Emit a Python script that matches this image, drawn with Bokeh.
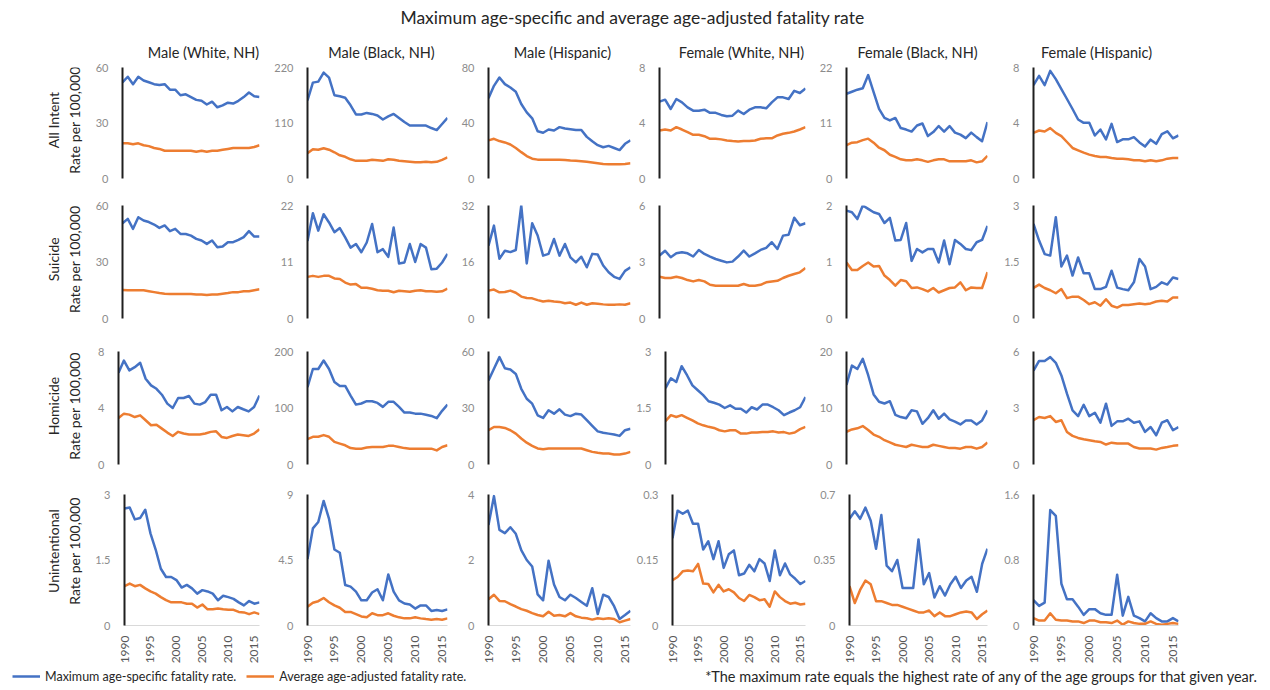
import math
from bokeh.plotting import figure
from bokeh.layouts import row, column
from bokeh.models import Range1d, FixedTicker, CustomJSTickFormatter, Legend, LegendItem
from bokeh.embed import file_html
from bokeh.resources import INLINE
from bokeh.core.properties import value

# ---------------- data ----------------
years = list(range(1990, 2017))
year_ticks = [1990, 1995, 2000, 2005, 2010, 2015]
title_text = "Maximum age-specific and average age-adjusted fatality rate"
col_names = ["Male (White, NH)", "Male (Black, NH)", "Male (Hispanic)",
             "Female (White, NH)", "Female (Black, NH)", "Female (Hispanic)"]
row_names = ["All Intent", "Suicide", "Homicide", "Unintentional"]
rate_label = "Rate per 100,000"
legend_labels = ["Maximum age-specific fatality rate.", "Average age-adjusted fatality rate."]
footnote = "*The maximum rate equals the highest rate of any of the age groups for that given year."

# axis maxima (tick labels are 0, max/2, max)
ymax_all = [60, 220, 80, 8, 22, 8]
ymax_sui = [60, 22, 32, 6, 2, 3]
ymax_hom = [8, 200, 60, 3, 20, 6]
ymax_uni = [3, 9, 4, 0.3, 0.7, 1.6]

# All intent
all_mw_max = [52,55,51,55,53,52,51,50.5,51,48,48,45,45.5,44,42.5,42,40,41.5,38.5,39.5,41,40.5,42,44,46.5,44.5,44]
all_mw_avg = [19,19,18.5,19,18,17.5,16.5,16,15,15,15,15,15,15,14.5,15,14.5,15,15,15.5,16,16.5,16.5,16.5,16.5,17,18]
all_mb_max = [155,190,192,210,200,165,163,160,145,127,127,130,128,125,117,123,128,120,112,105,105,105,105,100,96,108,120]
all_mb_avg = [50,58,57,60,57,52,46,43,38,35,35,35,37,36,35,38,37,35,34,33,32,32,33,32,33,37,42]
all_mh_max = [57.8,66.8,72.8,68,65.6,62.5,53.7,47.7,43.4,34,33,35.3,34.6,37,36,35.5,35,35,30,26.8,24,22.5,23.5,22,20.5,25,27.5]
all_mh_avg = [27.5,28.6,27,26,24.5,22,19,16.2,14.3,13.6,13.5,13.5,13.5,13.5,13.3,13,12.8,12.5,12,11.5,11,10.5,10.3,10.2,10.2,10.5,11]
all_fw_max = [5.54,5.68,5.01,5.73,5.49,5.13,4.89,4.89,4.96,4.73,4.73,4.58,4.49,4.53,4.89,4.65,4.96,5.13,5.13,5.06,5.49,5.85,5.85,5.73,6.32,6.16,6.49]
all_fw_avg = [3.46,3.53,3.46,3.7,3.53,3.34,3.15,3.15,3.05,2.86,2.86,2.82,2.74,2.7,2.67,2.7,2.7,2.74,2.86,2.9,2.9,3.1,3.22,3.29,3.39,3.53,3.7]
all_fb_max = [16.8,17.2,17.6,17.9,20.5,17.1,13.8,12,11.5,12,10,9.7,9.3,10.5,10.9,8.4,9.2,10.4,9.3,10.4,9.1,8.7,8.0,9.1,8.2,7.4,11.2]
all_fb_avg = [6.6,7.1,7.2,7.6,7.9,7.1,6.1,5.6,4.7,4.3,3.8,3.6,3.6,3.8,3.6,3.3,3.6,3.8,3.8,3.4,3.4,3.4,3.4,3.6,3.2,3.4,4.5]
all_fh_max = [6.73,7.4,6.73,7.76,7.16,6.44,5.73,5.01,4.25,4.01,4.01,3.1,3.53,2.82,3.94,2.63,2.82,2.82,2.98,2.6,2.3,2.8,2.5,3.2,3.4,2.9,3.1]
all_fh_avg = [3.29,3.46,3.39,3.63,3.29,3.05,2.63,2.2,2.03,1.86,1.72,1.62,1.55,1.55,1.48,1.43,1.43,1.38,1.31,1.31,1.24,1.31,1.24,1.31,1.43,1.48,1.48]

# Suicide
sui_mw_max = [50.6,52.9,47.6,53.8,52,51.2,49.9,48.1,49.4,46.4,47.6,44.9,44.9,44,42.3,41.4,39.6,41.4,37.8,38.2,40.5,40.5,41.7,43.2,46.4,43.5,43.5]
sui_mw_avg = [15.1,15,15,15,15,14.5,14,13.5,13.2,13,13,13,13,13,12.8,12.7,12.5,12.8,12.8,13.2,13.5,14,14,14.5,14.5,15,15.5]
sui_mb_max = [15.1,20.5,17.1,20.3,18.7,16.8,17.6,15.8,13.8,14.5,12.9,14.8,18.4,12.9,13.5,12.0,17.7,10.7,10.9,14.5,11.0,14.5,13.8,9.6,9.7,10.9,12.6]
sui_mb_avg = [8.1,8.3,8.1,8.3,8.3,7.8,7.7,7.0,6.6,6.7,6.0,6.0,5.8,5.5,5.4,5.4,5.1,5.4,5.3,5.2,5.4,5.5,5.3,5.3,5.2,5.3,5.8]
sui_mh_max = [20.6,26.3,16.9,19.2,18.8,19.4,32,15.6,27,23.5,17.8,18.3,22.5,17.8,21.1,17.3,15.9,17.5,14.5,18.3,18.1,15,13.1,11.8,11.2,13.5,14.5]
sui_mh_avg = [7.9,8.2,7.4,7.5,7.9,7.3,6.2,5.8,5.7,5.2,4.8,5.0,4.8,4.7,4.3,4.5,3.9,4.5,3.9,4.3,4.2,4.0,3.9,3.9,4.0,3.9,4.3]
sui_fw_max = [3.34,3.6,3.25,3.46,3.52,3.46,3.29,3.64,3.43,3.29,3.16,3.07,2.98,3.02,3.29,3.6,3.29,3.46,3.64,3.75,4.05,3.69,4.4,4.45,5.35,4.95,5.06]
sui_fw_avg = [2.22,2.15,2.15,2.22,2.15,2.04,1.97,2.04,1.97,1.79,1.74,1.74,1.74,1.74,1.74,1.83,1.74,1.74,1.79,1.92,1.97,2.0,2.15,2.27,2.36,2.45,2.68]
sui_fb_max = [1.91,1.88,1.76,2.0,1.94,1.88,1.85,1.69,1.78,1.38,1.39,1.69,1.02,1.23,1.17,1.23,1.23,0.99,1.38,0.96,1.39,1.32,1.23,1.21,1.35,1.39,1.64]
sui_fb_avg = [0.99,0.86,0.86,0.93,0.99,0.92,0.93,0.76,0.68,0.58,0.68,0.66,0.54,0.55,0.52,0.48,0.54,0.46,0.5,0.54,0.55,0.64,0.5,0.55,0.54,0.54,0.82]
sui_fh_max = [2.51,2.07,1.71,1.67,2.69,1.38,1.67,1.14,1.62,1.2,1.2,0.78,0.78,0.84,1.27,0.82,0.78,0.75,0.96,1.58,1.38,0.78,0.84,0.96,0.9,1.09,1.05]
sui_fh_avg = [0.81,0.9,0.81,0.75,0.67,0.78,0.54,0.58,0.58,0.49,0.38,0.43,0.34,0.51,0.34,0.29,0.36,0.36,0.38,0.4,0.38,0.4,0.45,0.47,0.45,0.56,0.56]

# Homicide
hom_mw_max = [6.49,7.36,6.66,6.89,7.2,6.07,5.6,5.36,4.94,4.31,4.0,4.71,4.71,4.85,4.31,4.24,4.42,4.94,4.94,3.84,4.07,3.76,4.07,3.91,3.76,4.07,4.89]
hom_mw_avg = [3.29,3.6,3.53,3.36,3.48,3.13,2.78,2.82,2.54,2.26,2.02,2.31,2.19,2.12,2.12,2.12,2.19,2.31,2.35,1.95,1.88,2.02,2.12,2.07,2.02,2.19,2.49]
hom_mb_max = [137,169,169,184,169,146,139,139,122,106,108,112,112,109,102,111,111,102,92,92,90,90,88,86,82,95,106]
hom_mb_avg = [45,49,49,52,49,40,37,34,29,28,28,30,31,31,31,33,33,31,29,28,28,28,28,28,25,31,34]
hom_mh_max = [44.6,50.8,57,51.1,50.4,48.1,40.2,34.9,32.3,26.1,24.7,28.8,27,29.3,26.5,25.7,27,26.5,23.5,20.5,17.6,16.9,16.4,15.9,15.2,18.2,19.0]
hom_mh_avg = [18.2,19.9,19.9,19.4,18.2,16.4,13.8,11.6,9.9,8.5,8.1,8.5,8.5,8.5,8.5,8.5,8.5,8.5,7.6,6.7,6.2,5.8,5.8,5.3,5.3,5.8,6.7]
hom_fw_max = [2.03,2.29,2.19,2.61,2.37,2.1,1.97,1.84,1.68,1.64,1.59,1.5,1.57,1.48,1.48,1.38,1.52,1.46,1.59,1.59,1.52,1.44,1.31,1.38,1.44,1.52,1.79]
hom_fw_avg = [1.15,1.31,1.26,1.31,1.24,1.17,1.09,1.04,1.0,0.97,0.91,0.88,0.91,0.91,0.82,0.82,0.85,0.85,0.86,0.86,0.88,0.85,0.86,0.82,0.85,0.94,1.0]
hom_fb_max = [14.1,17.5,16.9,18.7,15.8,12.4,11.1,10.8,11.2,8.8,8.4,8.2,9.6,9.4,7.2,8.2,9.6,8.1,9.0,8.0,7.6,7.1,7.8,7.8,7.1,7.8,9.6]
hom_fb_avg = [5.8,6.2,6.4,6.8,6.1,5.3,4.9,4.3,3.9,3.5,3.3,3.1,3.5,3.3,3.1,3.1,3.5,3.3,3.1,2.9,2.9,2.8,3.1,3.1,2.8,3.1,3.9]
hom_fh_max = [4.99,5.5,5.5,5.7,5.4,4.73,3.76,2.87,2.57,3.17,2.57,2.75,2.22,3.23,2.05,2.29,2.29,2.43,2.22,2.29,1.73,1.99,1.55,2.22,2.35,1.82,1.99]
hom_fh_avg = [2.35,2.52,2.47,2.57,2.26,2.35,1.73,1.52,1.41,1.34,1.29,1.23,1.2,1.06,1.16,1.11,1.11,1.11,0.93,0.85,0.85,0.85,0.79,0.88,0.93,0.99,1.02]

# Unintentional
uni_mw_max = [2.68,2.7,2.43,2.46,2.65,2.11,1.74,1.3,1.11,1.11,1.04,0.87,0.93,0.85,0.73,0.81,0.78,0.73,0.58,0.68,0.65,0.61,0.53,0.46,0.56,0.5,0.53]
uni_mw_avg = [0.9,0.96,0.9,0.93,0.85,0.78,0.73,0.65,0.58,0.53,0.53,0.53,0.5,0.5,0.41,0.48,0.37,0.37,0.39,0.37,0.36,0.36,0.31,0.3,0.26,0.3,0.26]
uni_mb_max = [4.56,6.67,7.11,8.56,7.33,5.22,5.0,2.78,2.67,2.33,1.73,1.73,2.27,2.49,1.73,3.51,2.33,1.73,1.51,1.44,1.16,1.38,1.38,1.0,1.07,1.0,1.11]
uni_mb_avg = [1.29,1.56,1.67,1.89,1.6,1.38,1.22,0.93,0.93,0.78,0.62,0.56,0.84,0.71,0.71,0.84,0.67,0.56,0.49,0.49,0.56,0.49,0.44,0.4,0.44,0.4,0.49]
uni_mh_max = [3.07,3.95,2.92,2.82,3.0,2.8,2.3,2.0,1.8,0.95,0.77,1.98,1.25,0.87,0.77,0.94,0.84,0.72,0.6,1.14,0.35,0.94,0.87,0.59,0.2,0.32,0.45]
uni_mh_avg = [0.8,0.94,0.75,0.74,0.65,0.58,0.5,0.45,0.38,0.32,0.28,0.42,0.3,0.32,0.28,0.38,0.28,0.24,0.22,0.18,0.22,0.2,0.22,0.2,0.1,0.15,0.2]
uni_fw_max = [0.2,0.263,0.256,0.263,0.233,0.233,0.174,0.193,0.152,0.193,0.132,0.163,0.172,0.115,0.119,0.139,0.124,0.152,0.142,0.102,0.172,0.115,0.142,0.117,0.107,0.095,0.102]
uni_fw_avg = [0.104,0.111,0.124,0.126,0.124,0.141,0.096,0.095,0.076,0.093,0.078,0.083,0.076,0.063,0.056,0.07,0.065,0.058,0.06,0.043,0.078,0.065,0.056,0.05,0.052,0.048,0.05]
uni_fb_max = [0.57,0.61,0.57,0.63,0.56,0.41,0.59,0.32,0.29,0.35,0.2,0.2,0.2,0.46,0.22,0.28,0.15,0.21,0.16,0.22,0.26,0.2,0.24,0.26,0.18,0.33,0.41]
uni_fb_avg = [0.21,0.12,0.19,0.24,0.22,0.13,0.13,0.12,0.11,0.11,0.1,0.09,0.08,0.07,0.07,0.08,0.05,0.07,0.05,0.05,0.06,0.07,0.075,0.07,0.035,0.06,0.08]
uni_fh_max = [0.31,0.24,0.28,1.41,1.34,0.51,0.32,0.32,0.23,0.13,0.2,0.2,0.15,0.13,0.13,0.62,0.12,0.35,0.12,0.09,0.05,0.15,0.09,0.05,0.05,0.09,0.05]
uni_fh_avg = [0.09,0.06,0.06,0.15,0.07,0.06,0.06,0.05,0.05,0.03,0.06,0.06,0.04,0.04,0.03,0.06,0.01,0.05,0.03,0.02,0.02,0.05,0.02,0.01,0.02,0.03,0.02]

# ---------------- assemble panel table ----------------
ymax_rows = [ymax_all, ymax_sui, ymax_hom, ymax_uni]
panel_rows = [
    [(all_mw_max, all_mw_avg), (all_mb_max, all_mb_avg), (all_mh_max, all_mh_avg),
     (all_fw_max, all_fw_avg), (all_fb_max, all_fb_avg), (all_fh_max, all_fh_avg)],
    [(sui_mw_max, sui_mw_avg), (sui_mb_max, sui_mb_avg), (sui_mh_max, sui_mh_avg),
     (sui_fw_max, sui_fw_avg), (sui_fb_max, sui_fb_avg), (sui_fh_max, sui_fh_avg)],
    [(hom_mw_max, hom_mw_avg), (hom_mb_max, hom_mb_avg), (hom_mh_max, hom_mh_avg),
     (hom_fw_max, hom_fw_avg), (hom_fb_max, hom_fb_avg), (hom_fh_max, hom_fh_avg)],
    [(uni_mw_max, uni_mw_avg), (uni_mb_max, uni_mb_avg), (uni_mh_max, uni_mh_avg),
     (uni_fw_max, uni_fw_avg), (uni_fb_max, uni_fb_avg), (uni_fh_max, uni_fh_avg)],
]

# ---------------- layout / style ----------------
FONT = "Lato"
BLUE = "#4472C4"
ORANGE = "#ED7D31"
TICK_COLOR = "#8c8c8c"
TEXT_COLOR = "#262626"

PAGE_W = 1262
col_w = [175, 185, 181, 177, 189, 199]
col_L = [26, 40, 36, 26, 36, 34]
col_R = [8, 5, 3, 5, 12, 20]
row_T = [7, 13, 13, 12]
row_FH = [111, 113, 113, 135]
row_B = [14, 20, 18, 37]
LABEL_W = 92
HEADER_H = 60
LEGEND_H = 20
col_title_x = [203, 381, 562, 741, 917, 1096]   # page px
title_x = 632
title_y = 17
col_title_y = 52
row_label_x = [53, 74]


def blank(width, height):
    f = figure(width=width, height=height, x_range=Range1d(0, width), y_range=Range1d(0, height),
               x_axis_type=None, y_axis_type=None, output_backend="svg",
               toolbar_location=None, min_border=0)
    f.outline_line_color = None
    f.background_fill_color = "white"
    return f


def make_panel(r, c):
    ymax = ymax_rows[r][c]
    mx, av = panel_rows[r][c]
    h = row_T[r] + row_FH[r] + row_B[r]
    p = figure(width=col_w[c], height=h,
               x_range=Range1d(years[0], years[-1]), y_range=Range1d(0, ymax),
               output_backend="svg", toolbar_location=None,
               min_border_left=col_L[c], min_border_right=col_R[c],
               min_border_top=row_T[r], min_border_bottom=row_B[r])
    p.outline_line_color = None
    p.xgrid.visible = False
    p.ygrid.visible = False
    p.line(years, mx, color=BLUE, line_width=2.5, line_join="round")
    p.line(years, av, color=ORANGE, line_width=2.5, line_join="round")

    ya = p.yaxis[0]
    ya.ticker = FixedTicker(ticks=[0, ymax / 2, ymax])
    ya.formatter = CustomJSTickFormatter(code="return String(Math.round(tick*1000)/1000);")
    ya.axis_line_color = "#1f1f1f"
    ya.axis_line_width = 2
    ya.major_tick_line_color = None
    ya.minor_tick_line_color = None
    ya.major_label_standoff = 8
    ya.major_label_text_font = FONT
    ya.major_label_text_font_size = "11px"
    ya.major_label_text_color = TICK_COLOR

    xa = p.xaxis[0]
    if r == len(panel_rows) - 1:
        xa.ticker = FixedTicker(ticks=year_ticks)
        xa.major_label_orientation = math.pi / 2
        xa.axis_line_color = "#d9d9d9"
        xa.axis_line_width = 1
        xa.major_tick_line_color = None
        xa.minor_tick_line_color = None
        xa.major_label_standoff = 4
        xa.major_label_text_font = FONT
        xa.major_label_text_font_size = "12px"
        xa.major_label_text_color = "#595959"
    else:
        xa.visible = False
    return p


# header: title + column titles
header = blank(PAGE_W, HEADER_H)
header.text(x=[title_x], y=[HEADER_H - title_y], text=[title_text],
            text_font=value(FONT), text_font_size="17.5px", text_color=TEXT_COLOR,
            text_align="center", text_baseline="middle")
header.text(x=col_title_x, y=[HEADER_H - col_title_y] * len(col_names), text=col_names,
            text_font=value(FONT), text_font_size="14.5px", text_color=TEXT_COLOR,
            text_align="center", text_baseline="middle")

rows = [header]
for r in range(len(panel_rows)):
    h = row_T[r] + row_FH[r] + row_B[r]
    lab = blank(LABEL_W, h)
    yc = h - (row_T[r] + row_FH[r] / 2)
    lab.text(x=row_label_x, y=[yc, yc], text=[row_names[r], rate_label], angle=math.pi / 2,
             text_font=value(FONT), text_font_size="14px", text_color=TEXT_COLOR,
             text_align="center", text_baseline="middle")
    panels = [make_panel(r, c) for c in range(len(col_names))]
    rows.append(row(lab, *panels))

# legend strip
leg = blank(PAGE_W, LEGEND_H)
r1 = leg.line(x=[-20, -10], y=[-20, -20], color=BLUE, line_width=2.5)
r2 = leg.line(x=[-20, -10], y=[-20, -20], color=ORANGE, line_width=2.5)
legend = Legend(items=[LegendItem(label=legend_labels[0], renderers=[r1]),
                       LegendItem(label=legend_labels[1], renderers=[r2])],
                orientation="horizontal", location=(12, 2),
                glyph_width=28, glyph_height=16, label_height=16, label_standoff=5,
                spacing=10, padding=0, margin=0, border_line_color=None,
                background_fill_alpha=0, label_text_font=FONT,
                label_text_font_size="12.5px", label_text_color=TEXT_COLOR)
leg.add_layout(legend)
leg.text(x=[1258], y=[LEGEND_H - 10], text=[footnote],
         text_font=value(FONT), text_font_size="14.5px", text_color=TEXT_COLOR,
         text_align="right", text_baseline="middle")
rows.append(leg)

page = column(*rows)
open("out.html", "w").write(file_html(page, INLINE))
